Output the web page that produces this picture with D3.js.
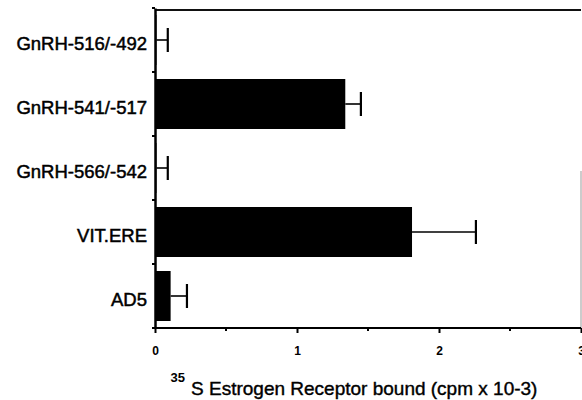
<!DOCTYPE html>
<html>
<head>
<meta charset="utf-8">
<script src="https://cdn.jsdelivr.net/npm/d3@7"></script>
<style>
  body { margin: 0; background: #fff; }
  svg { display: block; font-family: "Liberation Sans", Arial, Helvetica, sans-serif; }
</style>
</head>
<body>
<div id="plot"></div>
<script>
// values
const categories = ["GnRH-516/-492", "GnRH-541/-517", "GnRH-566/-542", "VIT.ERE", "AD5"];
const bound = [0.01, 1.34, 0.01, 1.81, 0.11];
const errors = [0.08, 0.11, 0.08, 0.45, 0.115];
const xTicks = [0, 1, 2, 3];
const xMinorTicks = [0.5, 1.5, 2.5];

const data = categories.map((c, i) => ({ name: c, value: bound[i], err: errors[i] }));

const width = 582, height = 400;
const margin = { top: 8, right: 1, bottom: 72, left: 155 };

const svg = d3.select("div#plot").append("svg")
    .attr("width", width)
    .attr("height", height);

const x = d3.scaleLinear()
    .domain([0, 3])
    .range([margin.left, width - margin.right]);

const y = d3.scaleBand()
    .domain(categories)
    .range([margin.top, height - margin.bottom])
    .padding(0);

const barPad = 7;

// frame top + faint right edge
svg.append("line")
    .attr("x1", x(0)).attr("x2", x(3))
    .attr("y1", margin.top + 2).attr("y2", margin.top + 2)
    .attr("stroke", "#111").attr("stroke-width", 2);
svg.append("line")
    .attr("x1", x(3)).attr("x2", x(3))
    .attr("y1", y(categories[2]) + 35).attr("y2", height - margin.bottom)
    .attr("stroke", "#999").attr("stroke-width", 1);

// bars
svg.selectAll(".bar")
  .data(data)
  .enter().append("rect")
    .attr("class", "bar")
    .attr("x", x(0))
    .attr("y", d => y(d.name) + barPad)
    .attr("width", d => x(d.value) - x(0))
    .attr("height", y.bandwidth() - 2 * barPad)
    .attr("fill", "#000");

// error bars
const eb = svg.selectAll(".err")
  .data(data)
  .enter().append("g")
    .attr("class", "err");

eb.append("line")
    .attr("x1", d => x(d.value))
    .attr("x2", d => x(d.value + d.err))
    .attr("y1", d => y(d.name) + y.bandwidth() / 2)
    .attr("y2", d => y(d.name) + y.bandwidth() / 2)
    .attr("stroke", "#000").attr("stroke-width", 1.6);

eb.append("line")
    .attr("x1", d => x(d.value + d.err))
    .attr("x2", d => x(d.value + d.err))
    .attr("y1", d => y(d.name) + y.bandwidth() / 2 - 12)
    .attr("y2", d => y(d.name) + y.bandwidth() / 2 + 12)
    .attr("stroke", "#000").attr("stroke-width", 2.2);

// x axis
const xAxis = svg.append("g")
    .attr("transform", `translate(0,${height - margin.bottom})`)
    .call(d3.axisBottom(x).tickValues(xTicks).tickFormat(d3.format("d")).tickSize(5).tickSizeOuter(0));
xAxis.select(".domain").attr("stroke-width", 2.2).attr("d", `M${x(0) - 2},0H${x(3)}`);
xAxis.selectAll(".tick line").attr("stroke-width", 2);
xAxis.selectAll(".tick text")
    .attr("font-size", 12)
    .attr("font-weight", "bold")
    .attr("fill", "#000")
    .attr("dy", "1.55em");

svg.append("g")
    .attr("transform", `translate(0,${height - margin.bottom})`)
  .selectAll("line")
  .data(xMinorTicks)
  .enter().append("line")
    .attr("x1", d => x(d)).attr("x2", d => x(d))
    .attr("y1", 0).attr("y2", 3)
    .attr("stroke", "#000").attr("stroke-width", 2);

// y axis
const yAxis = svg.append("g")
    .attr("transform", `translate(${x(0)},0)`)
    .call(d3.axisLeft(y).tickSize(0).tickPadding(8));
yAxis.select(".domain").attr("stroke-width", 2.5);
yAxis.selectAll(".tick text")
    .attr("font-size", 18.5)
    .attr("fill", "#000")
    .attr("stroke", "#000")
    .attr("stroke-width", 0.5)
    .attr("dy", "0.52em");

// band boundary ticks on y axis
svg.append("g")
  .selectAll("line")
  .data(categories.map(c => y(c)).concat([height - margin.bottom]))
  .enter().append("line")
    .attr("x1", x(0) - 3).attr("x2", x(0))
    .attr("y1", d => d).attr("y2", d => d)
    .attr("stroke", "#000").attr("stroke-width", 2);

// axis title
const title = svg.append("text")
    .attr("x", 354)
    .attr("y", 395)
    .attr("text-anchor", "middle")
    .attr("fill", "#000");
title.append("tspan")
    .attr("font-size", 13)
    .attr("font-weight", "bold")
    .attr("dy", -13)
    .text("35");
title.append("tspan")
    .attr("font-size", 19)
    .attr("stroke", "#000")
    .attr("stroke-width", 0.4)
    .attr("dx", 6)
    .attr("dy", 13)
    .text("S Estrogen Receptor bound (cpm x 10-3)");
</script>
</body>
</html>
